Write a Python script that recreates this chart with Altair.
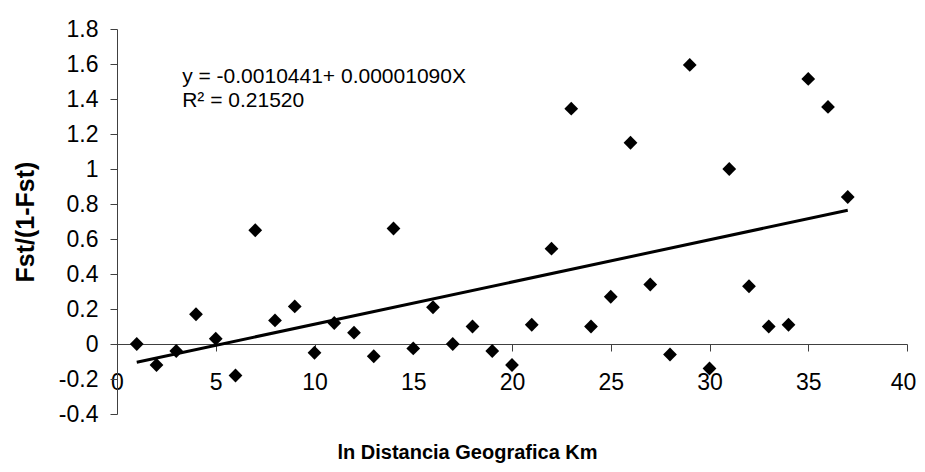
import altair as alt
import pandas as pd

# Data
distance = list(range(1, 38))
fst_ratio = [
    0.00, -0.12, -0.04, 0.17, 0.03, -0.18, 0.65, 0.135, 0.215, -0.05,
    0.12, 0.065, -0.07, 0.66, -0.025, 0.21, 0.00, 0.10, -0.04, -0.12,
    0.11, 0.545, 1.345, 0.10, 0.27, 1.15, 0.34, -0.06, 1.595, -0.14,
    1.00, 0.33, 0.10, 0.11, 1.515, 1.355, 0.84,
]
x_ticks = [0, 5, 10, 15, 20, 25, 30, 35, 40]
y_ticks = [-0.4, -0.2, 0, 0.2, 0.4, 0.6, 0.8, 1.0, 1.2, 1.4, 1.6, 1.8]
equation_lines = ["y = -0.0010441+ 0.00001090X", "R\u00b2 = 0.21520"]
x_title = "ln Distancia Geografica Km"
y_title = "Fst/(1-Fst)"

df = pd.DataFrame({"dist": distance, "fst": fst_ratio})

FONT = "Liberation Sans"
AXIS_COLOR = "#404040"
LABEL_SIZE = 23

x_scale = alt.Scale(domain=[0, 40], nice=False, zero=False)
y_scale = alt.Scale(domain=[-0.4, 1.8], nice=False, zero=False)

x_axis = alt.Axis(
    values=x_ticks, title=x_title, offset=-70, grid=False,
    domainColor=AXIS_COLOR, tickColor=AXIS_COLOR, tickSize=7,
    labelFont=FONT, labelFontSize=LABEL_SIZE, labelColor="black", labelPadding=20,
    labelFlush=False, labelOverlap=False,
    labelOffset={"condition": {"test": "datum.value == 40", "value": -4}, "value": 0},
    titleFont=FONT, titleFontSize=20, titleFontWeight="bold", titleColor="black",
    titleX=350, titleY=114, titleBaseline="alphabetic", titleAlign="center",
)
y_axis = alt.Axis(
    values=y_ticks, title=y_title, grid=False,
    domainColor=AXIS_COLOR, tickColor=AXIS_COLOR, tickSize=7,
    labelFont=FONT, labelFontSize=LABEL_SIZE, labelColor="black", labelPadding=12,
    labelFlush=False, labelOverlap=False,
    labelExpr="replace(format(datum.value, '.1f'), '\u2212', '-') == '0.0' ? '0' : (datum.value == 1 ? '1' : replace(format(datum.value, '.1f'), '\u2212', '-'))",
    titleFont=FONT, titleFontSize=25, titleFontWeight="bold", titleColor="black",
    titleX=-92, titleY=192.5, titleBaseline="middle", titleAngle=-90, titleAlign="center",
)

base = alt.Chart(df)

points = base.mark_point(
    shape="diamond", filled=True, color="black", size=190, opacity=1
).encode(
    x=alt.X("dist:Q", scale=x_scale, axis=x_axis),
    y=alt.Y("fst:Q", scale=y_scale, axis=y_axis),
)

trend = base.transform_regression(
    "dist", "fst", extent=[1, 37]
).mark_line(color="black", strokeWidth=3).encode(
    x=alt.X("dist:Q", scale=x_scale, axis=x_axis),
    y=alt.Y("fst:Q", scale=y_scale, axis=y_axis),
)

annotation = alt.Chart(pd.DataFrame({"a": [0]})).mark_text(
    align="left", baseline="alphabetic", font=FONT, fontSize=21,
    color="black", lineHeight=24,
).encode(
    x=alt.XDatum(3.3, scale=x_scale, axis=x_axis),
    y=alt.YDatum(1.49, scale=y_scale, axis=y_axis),
    text=alt.value(equation_lines),
)

chart = alt.layer(points, trend, annotation).properties(
    width=790, height=385,
    background="white",
    autosize=alt.AutoSizeParams(type="none"),
    padding={"left": 109, "top": 21, "right": 10, "bottom": 50},
).configure_view(stroke=None)

chart.save("out.html", embed_options={"renderer": "svg", "actions": False})
